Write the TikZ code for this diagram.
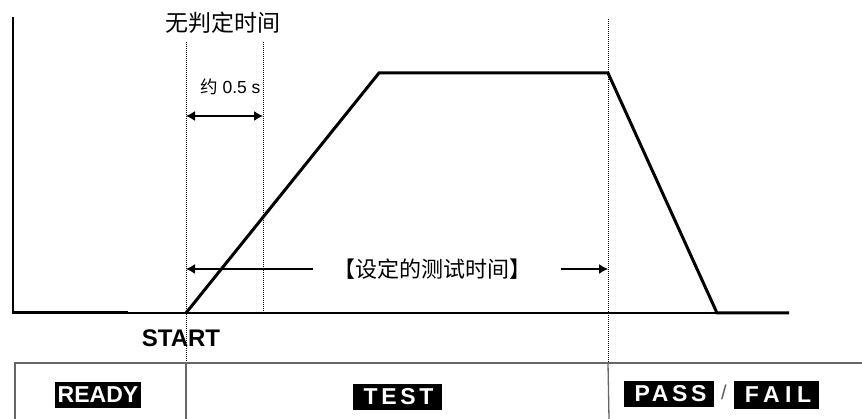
\documentclass[tikz,border=0pt]{standalone}
\usepackage{fontspec}
\setmainfont{Liberation Sans}
\newfontfamily\cjk{Noto Sans CJK SC}
\newfontfamily\spacedsans[LetterSpace=16]{Liberation Sans}
\newfontfamily\widesans[LetterSpace=24]{Liberation Sans}
\usetikzlibrary{
    arrows.meta,
    positioning
}
\tikzset{
  wave/.style   = {line width=3pt, black},
  axis/.style   = {line width=1.3pt, black},
  guide/.style  = {densely dotted, line width=1pt, black},
  tbl/.style    = {line width=1.3pt, black!60},
  dim/.style    = {line width=1.4pt, black},
  tip/.style    = {-{Latex[length=9pt,width=10pt]}},
  tag/.style    = {fill=black, text=white, inner sep=0pt, font=\fontsize{23}{25}\selectfont\bfseries}
}
\definecolor{SlashGray}{RGB}{90,90,90}

\begin{document}
\begin{tikzpicture}[x=1pt,y=-1pt]
\useasboundingbox (0,0) rectangle (862,419);
% axes and baseline
\coordinate (o) at (13,313);
\coordinate (ytop) at (13,17);
\coordinate (xend) at (789,313);
\draw[axis] (ytop) -- (o) -- (xend);
% waveform
\coordinate (w0) at (13,313);
\coordinate (w1) at (128,313);
\coordinate (w2) at (186,313);
\coordinate (w3) at (379,73);
\coordinate (w4) at (608,73);
\coordinate (w5) at (717,313);
\coordinate (w6) at (789,313);
\draw[wave] (w0) -- (w1);
\draw[wave, line join=miter] (w2) -- (w3) -- (w4) -- (w5) -- (w6);
% guide lines
\coordinate (g1t) at (186,42);   \coordinate (g1b) at (186,363);
\coordinate (g2t) at (263,42);   \coordinate (g2b) at (263,313);
\coordinate (g3t) at (608,19);   \coordinate (g3b) at (608,363);
\draw[guide] (g1t) -- (g1b);
\draw[guide] (g2t) -- (g2b);
\draw[guide] (g3t) -- (g3b);
% labels above
\node (nojudge) at (223,23) {\fontsize{23}{25}\selectfont\cjk 无判定时间};
\node[anchor=west, inner sep=0pt] (approx) at (200,87)
  {\fontsize{17.5}{20}\selectfont{\cjk 约} 0.5 s};
\coordinate (d0) at (186,116);
\coordinate (d1) at (263,116);
\draw[dim, {Latex[length=9pt,width=10pt]}-{Latex[length=9pt,width=10pt]}] (d0) -- (d1);
% test time span
\node[inner sep=0pt] (span) at (432,269)
  {\fontsize{22}{24}\selectfont\cjk 【设定的测试时间】};
\coordinate (s0a) at (313,269);
\coordinate (s1a) at (561,269);
\coordinate (s0) at (186,269);
\coordinate (s1) at (608,269);
\draw[dim, tip] (s0a) -- (s0);
\draw[dim, tip] (s1a) -- (s1);
\node (start) at (181,338) {\fontsize{24}{26}\selectfont\bfseries START};
% status table
\coordinate (t0) at (15,363);
\coordinate (t1) at (862,363);
\coordinate (t2) at (15,419);
\draw[tbl] (t2) -- (t0) -- (t1);
\draw[tbl] (g1b) -- (186,419);
\draw[tbl] (g3b) -- (609,419);
\node[tag, minimum width=86pt, minimum height=26pt] (ready) at (98,395) {READY};
\node[tag, minimum width=89pt, minimum height=25pt] (test) at (397,397) {\spacedsans\bfseries\hspace*{3pt}TEST};
\node[tag, minimum width=90pt, minimum height=26pt] (pass) at (669,394) {\spacedsans\bfseries\hspace*{3pt}PASS};
\node[tag, minimum width=85pt, minimum height=27pt] (fail) at (776,395) {\widesans\bfseries\hspace*{4pt}FAIL};
\node[SlashGray, font=\fontsize{20}{22}\selectfont] (slash) at (724,392) {/};
\end{tikzpicture}
\end{document}
